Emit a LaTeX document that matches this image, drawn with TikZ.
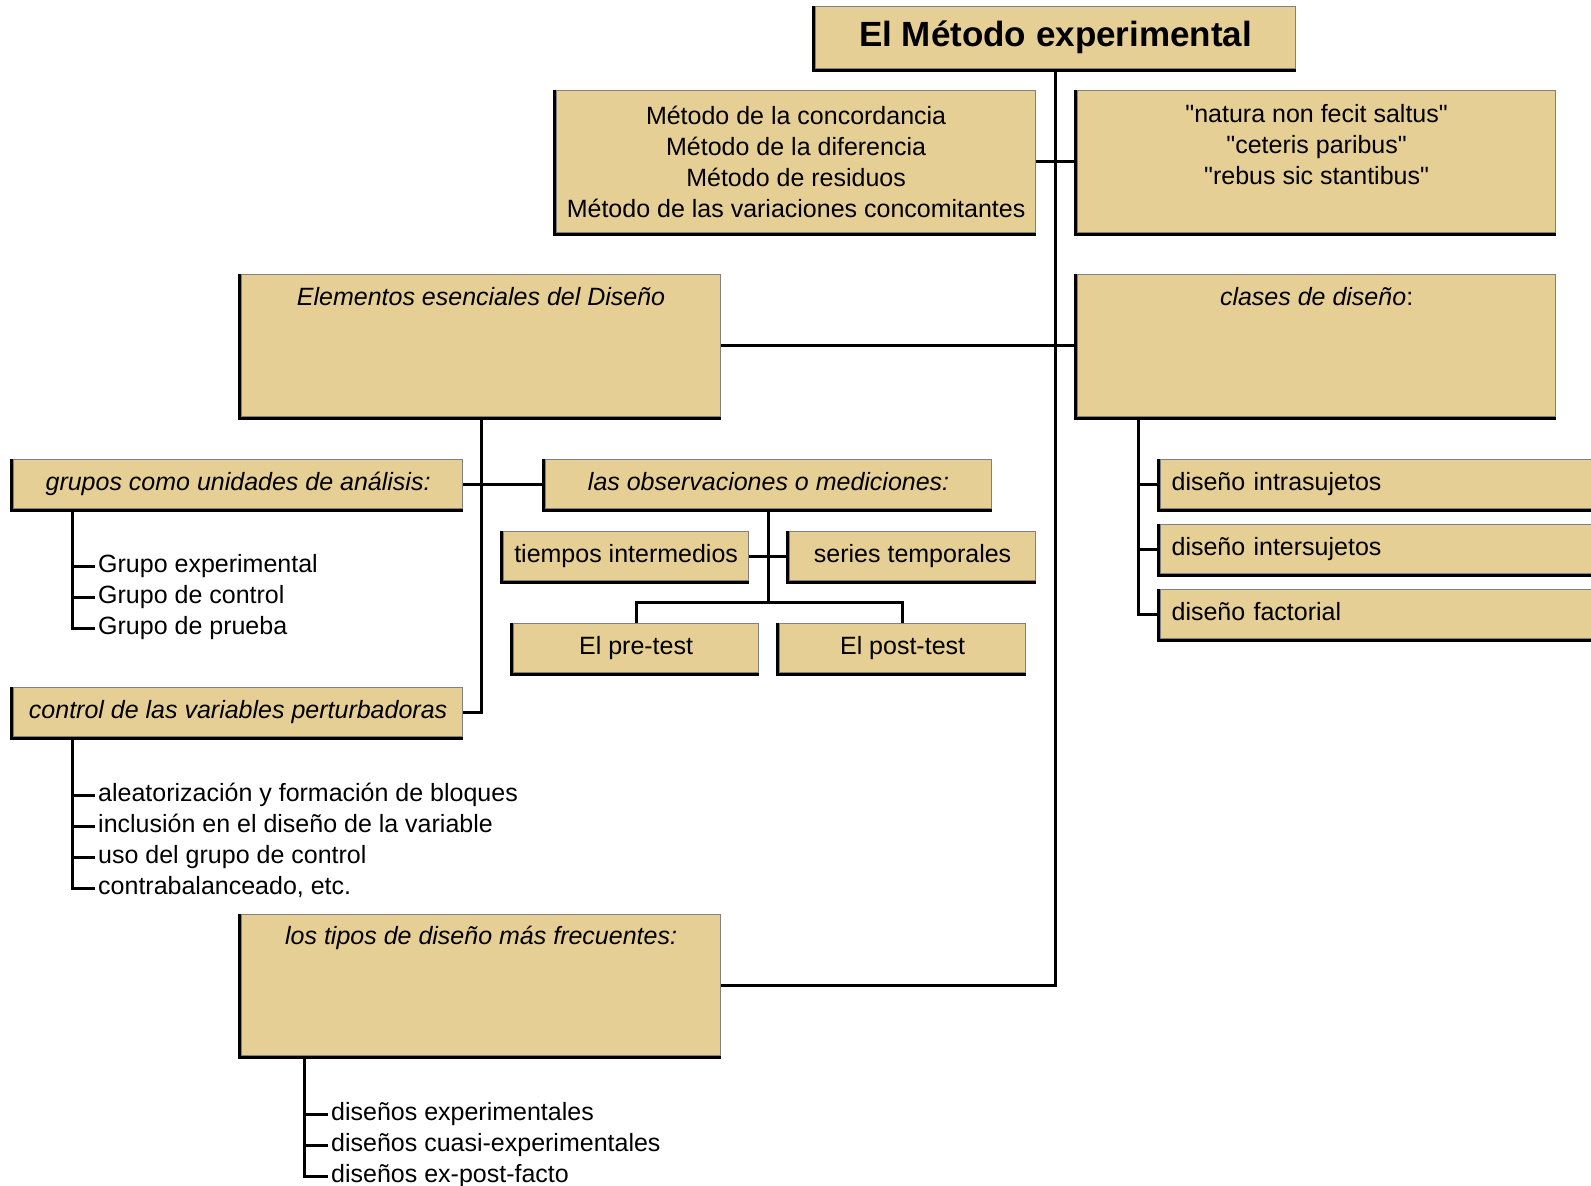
\documentclass[tikz,border=0pt]{standalone}
\usepackage{fontspec}
\setmainfont{Liberation Sans}[Ligatures=TeXOff]
\definecolor{boxtan}{HTML}{E6CF95}

\begin{document}
\begin{tikzpicture}[x=1pt,y=-1pt,
    box/.style={draw=gray,line width=1.2pt,fill=boxtan,anchor=north west,inner sep=0pt,
      font=\fontsize{25}{31}\selectfont},
    one/.style={text height=18pt,text depth=5pt},
    edge/.style={line width=3.5pt,black},
    con/.style={line width=3pt},
    item/.style={anchor=west,inner sep=3pt,text height=18pt,text depth=5pt,font=\fontsize{25}{31}\selectfont},
    hd/.style={inner sep=0pt,text height=18pt,text depth=5pt,font=\fontsize{25}{31}\selectfont\itshape}]

\useasboundingbox (0,0) rectangle (1591,1186);

% upper part
\node[box,minimum width=480pt,minimum height=62pt,font=\fontsize{35}{40}\selectfont\bfseries] (titulo) at (815,6) {El Método experimental};
\node[box,minimum width=479pt,minimum height=142pt,align=center] (metodo) at (556,90)
  {Método de la concordancia\\Método de la diferencia\\Método de residuos\\Método de las variaciones concomitantes};
\node[box,minimum width=478pt,minimum height=142pt] (natura) at (1077,90) {};
\node[anchor=north,inner sep=0pt,align=center,font=\fontsize{25}{31}\selectfont] (naturaT) at ([yshift=-14pt]natura.north)
  {"natura non fecit saltus"\\"ceteris paribus"\\"rebus sic stantibus"};

\node[box,minimum width=479pt,minimum height=142pt] (elem) at (241,274) {};
\node[hd] (elemT) at ([yshift=-25pt]elem.north) {Elementos esenciales del Diseño};
\node[box,minimum width=478pt,minimum height=142pt] (clases) at (1077,274) {};
\node[hd] (clasesT) at ([yshift=-25pt]clases.north) {clases de diseño\upshape:};

% elementos
\node[box,one,minimum width=449pt,minimum height=49pt,font=\fontsize{25}{31}\selectfont\itshape] (grupos) at (13,459) {grupos como unidades de análisis:};
\node[box,one,minimum width=446pt,minimum height=49pt,font=\fontsize{25}{31}\selectfont\itshape] (obs) at (545,459) {las observaciones o mediciones:};
\node[box,one,minimum width=245pt,minimum height=49pt] (tiempos) at (503,531) {tiempos intermedios};
\node[box,one,minimum width=246pt,minimum height=49pt] (series) at (789,531) {series temporales};
\node[box,one,minimum width=245pt,minimum height=49pt] (pre) at (513,623) {El pre-test};
\node[box,one,minimum width=246pt,minimum height=49pt] (post) at (779,623) {El post-test};
\node[box,one,minimum width=449pt,minimum height=49pt,font=\fontsize{25}{31}\selectfont\itshape] (control) at (13,687) {control de las variables perturbadoras};
\node[box,minimum width=479pt,minimum height=141pt] (tipos) at (241,914) {};
\node[hd] (tiposT) at ([yshift=-24pt]tipos.north) {los tipos de diseño más frecuentes:};

% clases
\node[box,one,text width=438pt,inner xsep=11pt,minimum height=49pt,align=left] (intra) at (1160,459) {diseño intrasujetos};
\node[box,one,text width=438pt,inner xsep=11pt,minimum height=49pt,align=left] (inter) at (1160,524) {diseño intersujetos};
\node[box,one,text width=438pt,inner xsep=11pt,minimum height=49pt,align=left] (fact) at (1160,589) {diseño factorial};

\foreach \b in {titulo,metodo,natura,elem,clases,grupos,obs,tiempos,series,pre,post,control,tipos,intra,inter,fact}
  \draw[edge] ([xshift=-1.5pt]\b.north west) |- ([yshift=-1.5pt]\b.south east);

% lists
\node[item] (g1) at (95,566) {Grupo experimental};
\node[item] (g2) at (95,597) {Grupo de control};
\node[item] (g3) at (95,628) {Grupo de prueba};
\node[item] (v1) at (95,795) {aleatorización y formación de bloques};
\node[item] (v2) at (95,826) {inclusión en el diseño de la variable};
\node[item] (v3) at (95,857) {uso del grupo de control};
\node[item] (v4) at (95,888) {contrabalanceado, etc.};
\node[item] (d1) at (328,1114) {diseños experimentales};
\node[item] (d2) at (328,1145) {diseños cuasi-experimentales};
\node[item] (d3) at (328,1176) {diseños ex-post-facto};

% connectors
\draw[con] (titulo.south) -- (titulo.south |- tipos.east) -- (tipos.east);
\draw[con] (metodo.east) -- (natura.west);
\draw[con] (elem.east) -- (clases.west);
\draw[con] (elem.south) |- (control.east);
\draw[con] (grupos.east) -- (obs.west);
\draw[con] (tiempos.east) -- (series.west);
\coordinate (obsj) at (obs.south |- 0,602);
\draw[con] (obs.south) -- (obsj);
\draw[con] (pre.north) |- (obsj) -| (post.north);

\coordinate (ctop) at ([xshift=61pt]clases.south west);
\draw[con] (ctop) |- (fact.west);
\foreach \i in {intra,inter} \draw[con] (\i.west -| ctop) -- (\i.west);

\coordinate (gtop) at ([xshift=59pt]grupos.south west);
\draw[con] (gtop) |- (g3.west);
\foreach \i in {g1,g2} \draw[con] (\i.west -| gtop) -- (\i.west);

\coordinate (vtop) at ([xshift=59pt]control.south west);
\draw[con] (vtop) |- (v4.west);
\foreach \i in {v1,v2,v3} \draw[con] (\i.west -| vtop) -- (\i.west);

\coordinate (dtop) at ([xshift=63pt]tipos.south west);
\draw[con] (dtop) |- (d3.west);
\foreach \i in {d1,d2} \draw[con] (\i.west -| dtop) -- (\i.west);
\end{tikzpicture}
\end{document}
